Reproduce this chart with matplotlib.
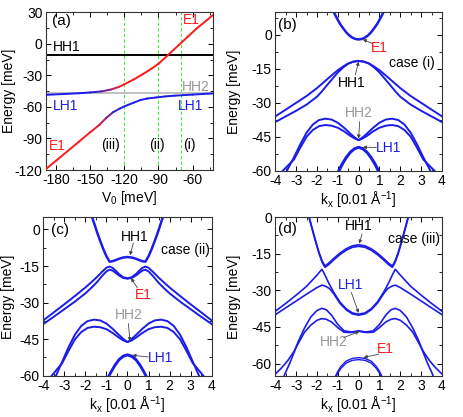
import numpy as np
import matplotlib
matplotlib.use("Agg")
import matplotlib.pyplot as plt
from matplotlib.collections import LineCollection
from matplotlib.ticker import MultipleLocator

plt.rcParams['font.family'] = ['Liberation Sans', 'DejaVu Sans']
plt.rcParams['font.size'] = 10
plt.rcParams['axes.unicode_minus'] = False
plt.rcParams['mathtext.fontset'] = 'custom'
plt.rcParams['mathtext.rm'] = 'Liberation Sans'

BLUE = '#1c1ce8'
RED = '#ff1a1a'
GREY = '#999999'

# ---- panel (a): levels vs V0 ----
v_up = [-189, -175, -160, -150, -140, -132, -125, -120, -112, -104, -96, -90, -82, -72, -64, -56, -48, -42]
e_up = [-48.5, -47.8, -47.0, -46.2, -45.2, -43.5, -41.0, -38.5, -34.0, -29.0, -23.5, -19.0, -11.0, -1.0, 7.0, 15.0, 22.0, 27.5]
w_up = [0, 0, 0, 0, 0.2, 0.6, 0.9, 1, 1, 1, 1, 1, 1, 1, 1, 1, 1, 1]   # E1 character

v_lo = [-189, -180, -170, -160, -150, -142, -136, -130, -124, -119, -112, -106, -100, -92, -84, -76, -68, -60, -50, -42]
e_lo = [-119, -111, -102, -93, -84, -77, -70.5, -65, -61.5, -59, -56, -53.5, -52, -51, -50, -49.3, -48.8, -48.3, -47.6, -47.2]
w_lo = [1, 1, 1, 1, 1, 0.8, 0.5, 0.2, 0, 0, 0, 0, 0, 0, 0, 0, 0, 0, 0, 0]

hh1_level = -11.0
hh2_level = -46.3
cases_v0 = [-120, -90, -70]

# ---- panel (b): case (i) ----
kb_e1 = [0, 0.15, 0.3, 0.45, 0.6, 0.75, 0.9, 1.05, 1.2]
b_e1 = [-2.0, -1.8, -1.2, -0.2, 1.2, 3.0, 5.0, 7.5, 10.2]
kb_hh1 = [0, 0.25, 0.5, 0.75, 1.0, 1.25, 1.5, 1.75, 2.0, 2.5, 3.0, 3.5, 4.0]
b_hh1_a = [-11.5, -11.8, -12.6, -14.0, -15.6, -17.5, -19.5, -21.5, -23.5, -27.0, -30.0, -33.0, -36.0]
b_hh1_b = [-11.5, -11.8, -12.7, -14.4, -16.6, -19.3, -22.0, -24.8, -27.3, -30.8, -33.5, -36.0, -38.5]
kb_hh2_a = [0, 0.2, 0.4, 0.7, 1.0, 1.3, 1.6, 1.9, 2.2, 2.5, 2.8, 3.1, 3.5]
b_hh2_a = [-46.5, -45.2, -43.6, -41.0, -38.8, -37.4, -37.0, -37.6, -39.6, -43.2, -48.3, -54.0, -61.0]
kb_hh2_b = [0, 0.2, 0.4, 0.7, 1.0, 1.3, 1.6, 1.9, 2.2, 2.5, 2.8, 3.1, 3.4, 3.8]
b_hh2_b = [-46.5, -45.7, -44.6, -42.6, -41.0, -40.1, -39.8, -40.3, -42.0, -45.0, -49.8, -55.0, -57.8, -61.5]
kb_lh1 = [0, 0.2, 0.4, 0.6, 0.8, 1.0]
b_lh1_a = [-49.5, -50.1, -51.6, -53.9, -56.9, -60.5]
b_lh1_b = [-49.8, -50.5, -52.1, -54.6, -57.7, -61.5]

# ---- panel (c): case (ii) ----
kc_hh1 = [0, 0.2, 0.4, 0.6, 0.75, 0.85, 1.0, 1.15, 1.3, 1.45, 1.6, 1.7]
c_hh1 = [-11.3, -11.5, -12.0, -12.7, -13.1, -13.2, -11.0, -8.0, -4.6, -1.0, 3.0, 5.5]
kc_e1 = [0, 0.2, 0.4, 0.55, 0.7, 0.85, 1.0, 1.2, 1.45, 1.7, 2.0, 2.5, 3.0, 3.5, 4.0]
c_e1_a = [-20.0, -19.6, -18.3, -17.0, -15.8, -15.2, -15.7, -17.3, -19.5, -21.5, -23.8, -27.3, -30.7, -34.0, -37.3]
c_e1_b = [-20.2, -19.9, -18.9, -17.9, -16.9, -16.5, -17.2, -19.0, -21.6, -23.8, -26.2, -29.6, -32.7, -35.8, -38.8]
kc_hh2_a = [0, 0.2, 0.4, 0.7, 1.0, 1.3, 1.6, 1.9, 2.2, 2.5, 2.8, 3.1, 3.45]
c_hh2_a = [-46.2, -44.9, -43.3, -40.8, -38.6, -37.3, -37.0, -37.6, -39.6, -43.2, -48.3, -54.2, -61.0]
kc_hh2_b = [0, 0.2, 0.4, 0.7, 1.0, 1.3, 1.6, 1.9, 2.2, 2.5, 2.8, 3.1, 3.4, 3.7]
c_hh2_b = [-46.2, -45.5, -44.4, -42.5, -40.9, -40.1, -39.9, -40.4, -42.1, -45.1, -49.8, -54.8, -57.9, -61.0]
kc_lh1 = [0, 0.2, 0.4, 0.6, 0.8, 0.95]
c_lh1_a = [-51.3, -51.8, -53.2, -55.5, -58.5, -61.0]
c_lh1_b = [-51.6, -52.2, -53.6, -56.0, -59.0, -61.5]

# ---- panel (d): case (iii) ----
kd_hh1 = [0, 0.3, 0.6, 0.9, 1.2, 1.45, 1.62, 1.75, 1.9, 2.05, 2.2, 2.3, 2.4]
d_hh1_a = [-11.4, -11.8, -13.0, -14.8, -17.0, -19.0, -20.0, -18.0, -14.5, -10.2, -5.6, -2.4, 0.8]
d_hh1_b = [-12.0, -12.4, -13.6, -15.4, -17.6, -19.6, -20.6, -18.6, -15.0, -10.6, -6.0, -2.8, 0.4]
kd_lh1_a = [0, 0.3, 0.6, 0.9, 1.2, 1.45, 1.62, 1.76, 2.0, 2.5, 3.0, 3.5, 4.0]
d_lh1_a = [-39.8, -39.3, -37.6, -34.8, -30.8, -26.8, -23.7, -21.4, -23.8, -28.4, -32.0, -35.4, -38.6]
kd_lh1_b = [0, 0.3, 0.6, 0.9, 1.2, 1.4, 1.6, 1.76, 2.0, 2.5, 3.0, 3.5, 4.0]
d_lh1_b = [-40.2, -39.7, -38.0, -35.3, -31.4, -29.3, -28.3, -27.9, -28.9, -31.6, -34.4, -37.2, -40.0]
kd_hh2_a = [0, 0.35, 0.7, 1.0, 1.3, 1.55, 1.76, 2.0, 2.3, 2.6, 2.9, 3.1, 3.3, 3.5, 3.62]
d_hh2_a = [-46.6, -47.1, -46.6, -44.0, -40.2, -38.0, -37.4, -38.3, -41.0, -45.5, -51.0, -55.5, -59.8, -63.5, -66.0]
kd_hh2_b = [0, 0.35, 0.7, 1.0, 1.3, 1.55, 1.76, 2.0, 2.3, 2.6, 2.9, 3.1, 3.4, 3.7, 4.0]
d_hh2_b = [-46.8, -47.3, -47.2, -45.3, -43.0, -41.9, -41.6, -42.3, -44.3, -47.2, -51.8, -55.0, -58.8, -61.8, -64.3]
kd_e1 = [0, 0.3, 0.6, 0.85, 1.0, 1.15]
d_e1_a = [-57.6, -57.9, -59.0, -61.2, -63.2, -65.8]
d_e1_b = [-58.4, -58.7, -59.8, -62.0, -64.0, -66.5]


def sym(k, e):
    k = np.asarray(k, float)
    e = np.asarray(e, float)
    return np.r_[-k[::-1], k[1:]], np.r_[e[::-1], e[1:]]


def band(ax, k, e, lw=1.4):
    kk, ee = sym(k, e)
    ax.plot(kk, ee, color=BLUE, lw=lw, solid_joinstyle='round')


def style(ax, label_x):
    ax.tick_params(which='both', direction='in', top=True, right=True, labelsize=10, pad=2.5)
    ax.tick_params(which='major', length=3.5, width=0.7)
    ax.tick_params(which='minor', length=2, width=0.6)
    for s in ax.spines.values():
        s.set_linewidth(0.8)
        s.set_color('#333333')
    ax.set_ylabel('Energy [meV]')
    ax.yaxis.set_label_coords(label_x, 0.5)


def arrow(ax, tail, tip):
    ax.annotate('', xy=tip, xytext=tail,
                arrowprops=dict(arrowstyle='-|>', color='#444444', lw=0.6,
                                mutation_scale=5, shrinkA=0, shrinkB=0))


def kaxis(ax):
    ax.set_xlim(-4, 4)
    ax.xaxis.set_major_locator(MultipleLocator(1))
    ax.xaxis.set_minor_locator(MultipleLocator(0.5))
    ax.yaxis.set_major_locator(MultipleLocator(15))
    ax.yaxis.set_minor_locator(MultipleLocator(7.5))
    ax.set_xlabel(r'k$_\mathregular{x}$ [0.01 Å$^\mathregular{-1}$]', labelpad=1)


fig = plt.figure(figsize=(4.63, 4.17), dpi=100)
ax_a = fig.add_axes([0.0994, 0.5923, 0.3607, 0.3782])
ax_b = fig.add_axes([0.5946, 0.5906, 0.3600, 0.3799])
ax_c = fig.add_axes([0.0935, 0.0990, 0.3637, 0.3799])
ax_d = fig.add_axes([0.5946, 0.0990, 0.3600, 0.3806])

# (a)
ax = ax_a
blue_rgb = np.array(matplotlib.colors.to_rgb(BLUE))
red_rgb = np.array(matplotlib.colors.to_rgb(RED))
for vx, ey, wt in [(v_up, e_up, w_up), (v_lo, e_lo, w_lo)]:
    pts = np.column_stack([vx, ey]).reshape(-1, 1, 2)
    segs = np.concatenate([pts[:-1], pts[1:]], axis=1)
    wseg = (np.array(wt[:-1]) + np.array(wt[1:])) / 2
    cols = [tuple(blue_rgb * (1 - w) + red_rgb * w) for w in wseg]
    ax.add_collection(LineCollection(segs, colors=cols, linewidths=1.4, capstyle='round', joinstyle='round', zorder=3))
ax.axhline(hh2_level, color='#c0c0c0', lw=1.4, zorder=2)
ax.axhline(hh1_level, color='black', lw=1.4, zorder=2)
for v in cases_v0:
    ax.axvline(v, color='#44ee44', lw=0.8, ls=(0, (3, 2)), zorder=1)
ax.set_xlim(-189, -42)
ax.set_ylim(-120, 30)
ax.xaxis.set_minor_locator(MultipleLocator(15))
ax.yaxis.set_major_locator(MultipleLocator(30))
ax.yaxis.set_minor_locator(MultipleLocator(15))
ax.set_xticks([-180, -150, -120, -90, -60])
ax.set_xlabel(r'V$_\mathregular{0}$ [meV]', labelpad=1)
style(ax, -0.18)
ax.text(-183.5, 21.3, '(a)', ha='left', va='center', fontsize=11)
ax.text(-60.9, 22.3, 'E1', color=RED, ha='center', va='center')
ax.text(-170.6, -3, 'HH1', color='black', ha='center', va='center')
ax.text(-56.8, -41.4, 'HH2', color=GREY, ha='center', va='center')
ax.text(-172, -59, 'LH1', color=BLUE, ha='center', va='center')
ax.text(-62, -59, 'LH1', color=BLUE, ha='center', va='center')
ax.text(-178.8, -97.6, 'E1', color=RED, ha='center', va='center')
ax.text(-132, -96.6, '(iii)', ha='center', va='center')
ax.text(-91.8, -96.6, '(ii)', ha='center', va='center')
ax.text(-62.6, -96.6, '(i)', ha='center', va='center')

# (b)
ax = ax_b
band(ax, kb_e1, b_e1, 1.8)
band(ax, kb_hh1, b_hh1_a)
band(ax, kb_hh1, b_hh1_b)
band(ax, kb_hh2_a, b_hh2_a)
band(ax, kb_hh2_b, b_hh2_b)
band(ax, kb_lh1, b_lh1_a, 1.6)
band(ax, kb_lh1, b_lh1_b, 1.6)
ax.set_ylim(-60, 10)
kaxis(ax)
style(ax, -0.205)
ax.text(-3.44, 4.4, '(b)', ha='center', va='center', fontsize=11)
ax.text(2.56, -12.5, 'case (i)', ha='center', va='center')
ax.text(0.99, -5.9, 'E1', color=RED, ha='center', va='center')
arrow(ax, (0.64, -3.7), (0.2, -2.0))
ax.text(-0.32, -21.4, 'HH1', ha='center', va='center')
arrow(ax, (-0.16, -17.7), (0, -11.8))
ax.text(0, -34.7, 'HH2', color=GREY, ha='center', va='center')
arrow(ax, (0.05, -38.3), (0, -45.8))
ax.text(1.44, -50.1, 'LH1', color=BLUE, ha='center', va='center')
arrow(ax, (0.85, -49.7), (0.2, -49.6))

# (c)
ax = ax_c
band(ax, kc_hh1, c_hh1, 1.8)
band(ax, kc_e1, c_e1_a)
band(ax, kc_e1, c_e1_b)
band(ax, kc_hh2_a, c_hh2_a)
band(ax, kc_hh2_b, c_hh2_b)
band(ax, kc_lh1, c_lh1_a, 1.6)
band(ax, kc_lh1, c_lh1_b, 1.6)
ax.set_ylim(-60, 5)
kaxis(ax)
style(ax, -0.17)
ax.text(-3.21, -0.4, '(c)', ha='center', va='center', fontsize=11)
ax.text(2.73, -8.6, 'case (ii)', ha='center', va='center')
ax.text(0.36, -3.1, 'HH1', ha='center', va='center')
arrow(ax, (0.28, -5.5), (0.12, -10.6))
ax.text(0.75, -27, 'E1', color=RED, ha='center', va='center')
arrow(ax, (0.47, -24), (0.17, -19.9))
ax.text(0.04, -35.2, 'HH2', color=GREY, ha='center', va='center')
arrow(ax, (0.04, -38.6), (0.12, -45.8))
ax.text(1.58, -52.9, 'LH1', color=BLUE, ha='center', va='center')
arrow(ax, (0.99, -52.3), (0.23, -51.6))

# (d)
ax = ax_d
band(ax, kd_hh1, d_hh1_a, 1.2)
band(ax, kd_hh1, d_hh1_b, 1.2)
band(ax, kd_lh1_a, d_lh1_a, 1.2)
band(ax, kd_lh1_b, d_lh1_b, 1.2)
band(ax, kd_hh2_a, d_hh2_a, 1.2)
band(ax, kd_hh2_b, d_hh2_b, 1.2)
band(ax, kd_e1, d_e1_a, 1.0)
band(ax, kd_e1, d_e1_b, 1.0)
ax.set_ylim(-65, 0)
kaxis(ax)
style(ax, -0.205)
ax.text(-3.44, -4.8, '(d)', ha='center', va='center', fontsize=11)
ax.text(2.64, -8.9, 'case (iii)', ha='center', va='center')
ax.text(0, -3.8, 'HH1', ha='center', va='center')
arrow(ax, (0.16, -7), (0.03, -10.9))
ax.text(-0.4, -27.8, 'LH1', color=BLUE, ha='center', va='center')
arrow(ax, (-0.35, -30.9), (0, -39.3))
ax.text(-1.2, -51.2, 'HH2', color=GREY, ha='center', va='center')
arrow(ax, (-0.72, -49.4), (0.03, -46.9))
ax.text(1.28, -54.2, 'E1', color=RED, ha='center', va='center')
arrow(ax, (0.96, -56.2), (0.24, -57.5))

fig.savefig('out.png', dpi=100)
